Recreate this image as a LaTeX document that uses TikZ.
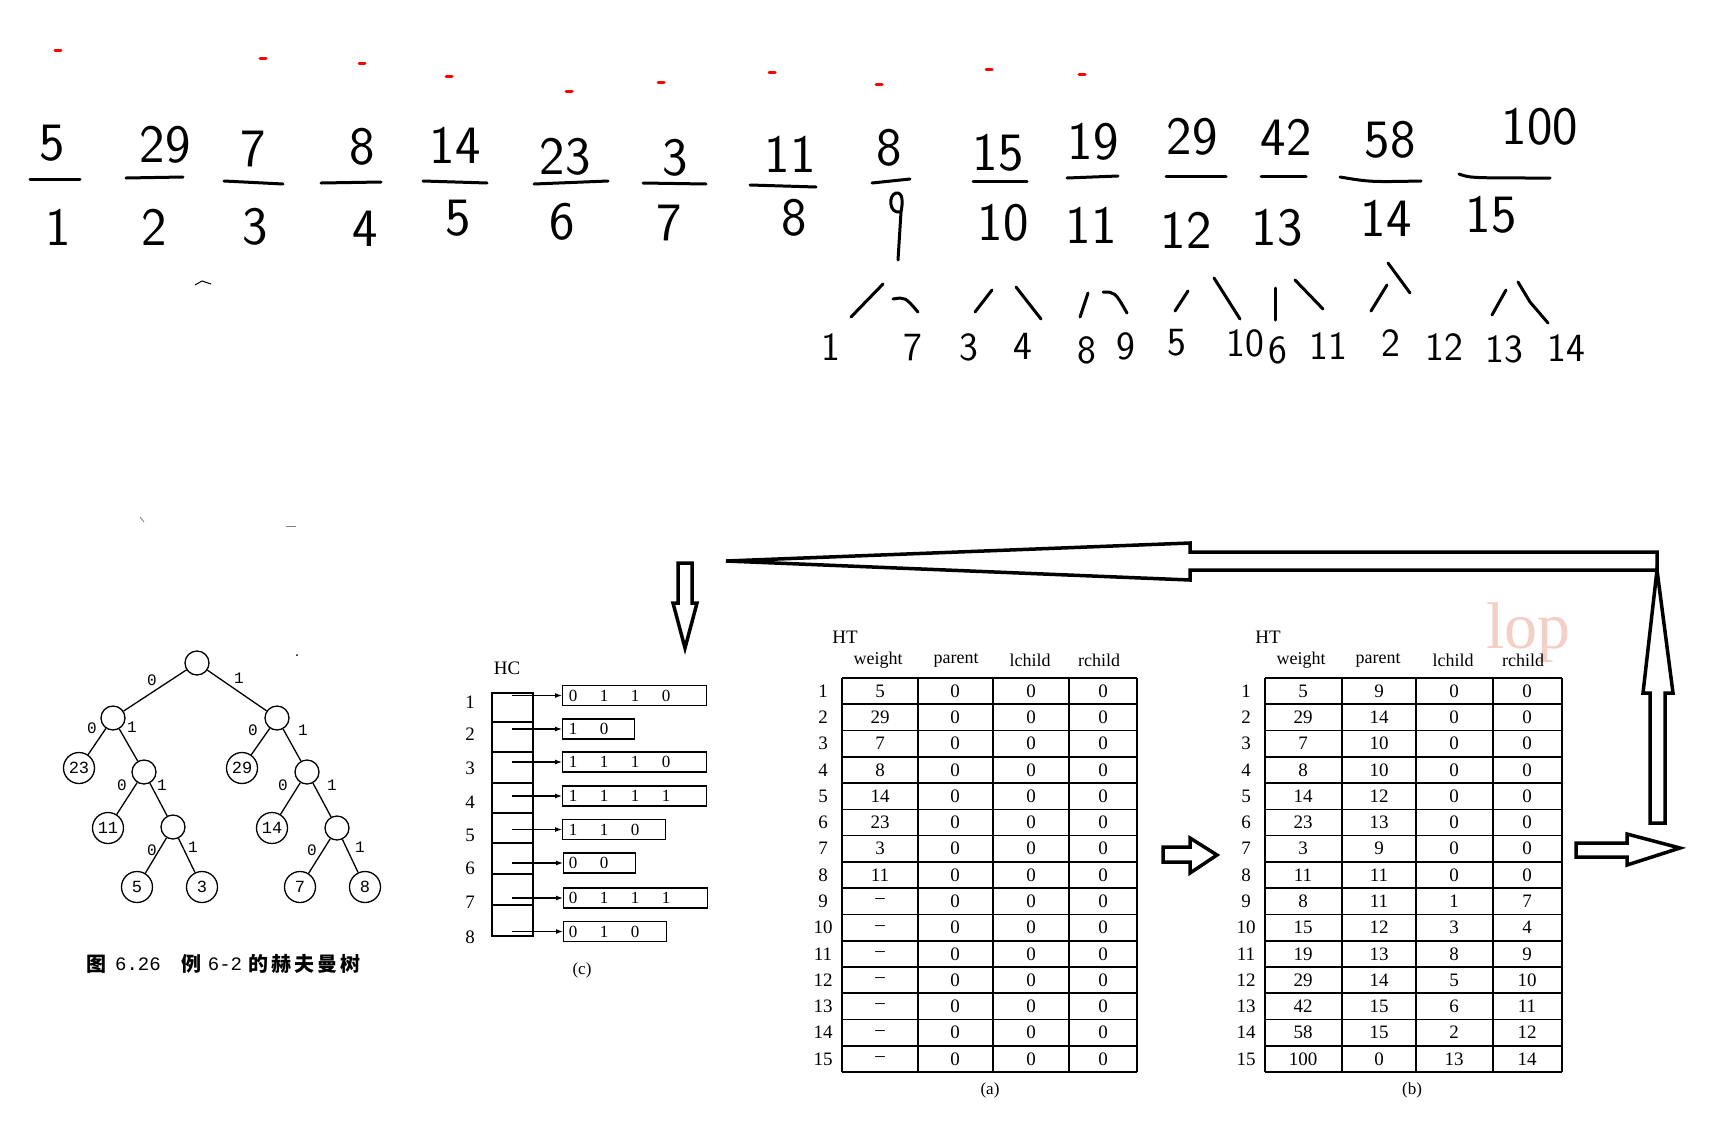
\documentclass[tikz,border=0pt]{standalone}
\usepackage{fontspec}
\setmainfont{Liberation Serif}
\newfontfamily\cjk{Noto Sans CJK SC}
\newfontfamily\mono{Liberation Mono}
\usetikzlibrary{arrows.meta}
\definecolor{wm}{RGB}{243,208,198}
\begin{document}
\begin{tikzpicture}[x=1pt,y=-1pt,
  hw/.style={font=\sffamily\fontsize{54}{54}\selectfont, inner sep=0pt},
  hws/.style={font=\sffamily\fontsize{40}{40}\selectfont, inner sep=0pt},
  hwline/.style={line width=3pt, line cap=round, line join=round},
  redmark/.style={draw=red, line width=3pt, line cap=round},
  tn/.style={circle, draw, line width=1.3pt, minimum size=24pt, inner sep=0pt},
  leaf/.style={tn, minimum size=31pt, font=\mono\fontsize{17}{17}\selectfont},
  el/.style={font=\mono\fontsize{16}{16}\selectfont, inner sep=0pt},
  ser/.style={font=\fontsize{19}{19}\selectfont, inner sep=0pt},
  hdr/.style={font=\fontsize{18}{18}\selectfont, inner sep=0pt},
  cd/.style={font=\fontsize{17}{17}\selectfont, inner sep=0pt},
  tline/.style={line width=1.6pt},
  hollow/.style={line width=3.5pt, line join=miter},
  codebox/.style={draw, line width=1.3pt, minimum height=20pt, anchor=west, inner sep=0pt},
  hcarrow/.style={line width=1.2pt, -{Latex[length=7pt,width=5pt]}},
  cjkc/.style={font=\cjk\bfseries\fontsize{20}{20}\selectfont, inner sep=0pt},
  monoc/.style={font=\mono\fontsize{19}{19}\selectfont, inner sep=0pt}
]
\useasboundingbox (0,0) rectangle (1716,1128);
\fill[white] (0,0) rectangle (1716,1128);

% ---------- red marks ----------
\foreach \x/\y in {58/50,263/58,362/63,449/76,569/91,661/82,772/72,879/84,989/69,1082/74}
  \draw[redmark] (\x-3,\y) -- (\x+3,\y);

% stray marks
\draw[line width=1pt] (195,285) -- (202,281) -- (211,284);
\draw[line width=0.8pt, gray] (140,517) -- (144,522);
\draw[line width=0.8pt, gray] (286,526) -- (296,526);

% ---------- handwritten top row ----------
\foreach \x/\y/\t [count=\k] in {52/143/5, 165/145/29, 253/149/7, 362/147/8, 455/145/14, 565/157/23, 675/158/3, 790/154/11, 889/148/8, 998/153/15, 1093/142/19, 1192/137/29, 1286/137/42, 1390/140/58, 1540/127/100}
  \node[hw] (w\k) at (\x,\y) {\t};

% fraction lines
\draw[hwline] (30,179) -- (80,179);
\draw[hwline] (126,178) -- (183,177);
\draw[hwline] (224,181) -- (283,184);
\draw[hwline] (321,183) -- (381,182);
\draw[hwline] (423,181) -- (487,183);
\draw[hwline] (534,184) -- (608,181);
\draw[hwline] (643,183) -- (706,184);
\draw[hwline] (750,185) -- (816,187);
\draw[hwline] (872,183) -- (910,179);
\draw[hwline] (973,181) -- (1027,181);
\draw[hwline] (1067,178) -- (1118,176);
\draw[hwline] (1166,176) -- (1226,176);
\draw[hwline] (1261,176) -- (1306,176);
\draw[hwline] (1340,177) .. controls (1370,182) .. (1421,181);
\draw[hwline] (1459,174) .. controls (1470,178) .. (1550,178);

% index row
\foreach \x/\y/\t [count=\k] in {58/227/1, 154/227/2, 255/227/3, 365/229/4, 458/218/5, 562/222/6, 669/223/7, 794/218/8, 1003/223/10, 1091/225/11, 1186/230/12, 1277/228/13, 1386/218/14, 1491/215/15}
  \node[hw] (i\k) at (\x,\y) {\t};
% tall handwritten 9
\draw[hwline] (900,212) .. controls (889,214) and (888,195) .. (896,193) .. controls (903,192) and (903,202) .. (901,212) -- (898,260);

% children row
\foreach \x/\y/\t [count=\k] in {831/347/1, 913/348/7, 969/347/3, 1023/346/4, 1087/350/8, 1126/346/9, 1177/343/5, 1245/343/10, 1278/350/6, 1328/346/11, 1391/343/2, 1444/347/12, 1504/349/13, 1566/348/14}
  \node[hws] (ch\k) at (\x,\y) {\t};

% children strokes
\draw[hwline] (851,317) -- (883,284);
\draw[hwline] (893,299) .. controls (905,297) .. (918,312);
\draw[hwline] (975,312) -- (992,290);
\draw[hwline] (1016,287) -- (1041,319);
\draw[hwline] (1080,317) -- (1088,293);
\draw[hwline] (1103,292) .. controls (1115,292) .. (1127,313);
\draw[hwline] (1175,311) -- (1188,291);
\draw[hwline] (1214,278) -- (1240,319);
\draw[hwline] (1275,288) -- (1275,320);
\draw[hwline] (1295,280) -- (1323,309);
\draw[hwline] (1371,311) -- (1387,285);
\draw[hwline] (1388,263) -- (1410,293);
\draw[hwline] (1492,315) -- (1506,290);
\draw[hwline] (1518,282) -- (1530,302) -- (1548,323);

% ---------- Huffman tree ----------
\node[tn] (root) at (197,663) {};
\node[tn] (L) at (113,718) {};
\node[tn] (R) at (277,718) {};
\node[leaf] (n23) at (79,768) {23};
\node[tn] (LR) at (144,772) {};
\node[leaf] (n29) at (242,768) {29};
\node[tn] (RR) at (307,772) {};
\node[leaf] (n11) at (108,828) {11};
\node[tn] (LRR) at (173,827) {};
\node[leaf] (n14) at (272,828) {14};
\node[tn] (RRR) at (337,828) {};
\node[leaf] (n5) at (137,887) {5};
\node[leaf] (n3) at (202,887) {3};
\node[leaf] (n7) at (300,887) {7};
\node[leaf] (n8) at (365,887) {8};
\foreach \a/\b in {root/L, root/R, L/n23, L/LR, R/n29, R/RR, LR/n11, LR/LRR, RR/n14, RR/RRR, LRR/n5, LRR/n3, RRR/n7, RRR/n8}
  \draw[line width=1.3pt] (\a) -- (\b);
\foreach \x/\y/\t [count=\k] in {152/680/0, 239/678/1, 92/728/0, 132/727/1, 253/730/0, 303/730/1, 122/785/0, 162/785/1, 283/785/0, 332/785/1, 152/850/0, 193/847/1, 312/850/0, 360/847/1}
  \node[el] (e\k) at (\x,\y) {\t};
\fill (297,655) circle (1pt);

% caption
\node[cjkc] (cap1) at (96,964) {图};
\node[monoc] (cap2) at (138,964) {6.26};
\node[cjkc] (cap3) at (191,964) {例};
\node[monoc] (cap4) at (225,964) {6-2};
\foreach \c [count=\k] in {的,赫,夫,曼,树}
  \node[cjkc] (capc\k) at ({235+\k*23},964) {\c};

% ---------- HC ----------
\node[ser] (hc) at (507,668) {HC};
\foreach \y [count=\k] in {702,734,768,802,835,868,902,937}
  \node[ser] (hcr\k) at (470,\y) {\k};
\draw[line width=1.3pt] (492,693) rectangle (533,936);
\foreach \y in {722,752,783,813,843,874,905}
  \draw[line width=1.3pt] (492,\y) -- (533,\y);

\node[codebox, minimum width=144pt] (c1) at (562,695.5) {};
\foreach \b [count=\j] in {0,1,1,0} \node[cd] (c1d\j) at ({542+\j*31},695.5) {\b};
\node[codebox, minimum width=72pt] (c2) at (562,729) {};
\foreach \b [count=\j] in {1,0} \node[cd] (c2d\j) at ({542+\j*31},729) {\b};
\node[codebox, minimum width=144pt] (c3) at (562,762) {};
\foreach \b [count=\j] in {1,1,1,0} \node[cd] (c3d\j) at ({542+\j*31},762) {\b};
\node[codebox, minimum width=144pt] (c4) at (562,796) {};
\foreach \b [count=\j] in {1,1,1,1} \node[cd] (c4d\j) at ({542+\j*31},796) {\b};
\node[codebox, minimum width=103pt] (c5) at (562,829.5) {};
\foreach \b [count=\j] in {1,1,0} \node[cd] (c5d\j) at ({542+\j*31},829.5) {\b};
\node[codebox, minimum width=72pt] (c6) at (563,863) {};
\foreach \b [count=\j] in {0,0} \node[cd] (c6d\j) at ({542+\j*31},863) {\b};
\node[codebox, minimum width=144pt] (c7) at (563,898) {};
\foreach \b [count=\j] in {0,1,1,1} \node[cd] (c7d\j) at ({542+\j*31},898) {\b};
\node[codebox, minimum width=103pt] (c8) at (563,931.5) {};
\foreach \b [count=\j] in {0,1,0} \node[cd] (c8d\j) at ({542+\j*31},931.5) {\b};

\foreach \y [count=\k] in {695.5,729,762,796,829.5,863,898,931.5} {
  \coordinate (s\k) at (512,\y);
  \draw[hcarrow] (s\k) -- (c\k.west);
}
\node[cd] (capc) at (582,970) {(c)};

% ---------- HT (a) ----------
\node[ser] (aHT) at (845,637) {HT};
\foreach \t/\x [count=\k] in {weight/878, parent/956, lchild/1030, rchild/1099}
  \node[hdr] (ah\k) at (\x,660) {\t};
\foreach \r in {0,...,15} \draw[tline] (842,{678+\r*26.27}) -- (1137,{678+\r*26.27});
\foreach \x in {842,918,993,1069,1137} \draw[tline] (\x,678) -- (\x,1072);
\foreach \w [count=\i] in {5,29,7,8,14,23,3,11,--,--,--,--,--,--,--} {
  \node[ser] (ar\i) at (823,{678+(\i-0.5)*26.27}) {\i};
  \node[ser] (aw\i) at (880,{678+(\i-0.5)*26.27}) {\w};
  \node[ser] (ap\i) at (955,{678+(\i-0.5)*26.27}) {0};
  \node[ser] (al\i) at (1031,{678+(\i-0.5)*26.27}) {0};
  \node[ser] (arc\i) at (1103,{678+(\i-0.5)*26.27}) {0};
}
\node[cd] (capa) at (990,1090) {(a)};

% ---------- watermark ----------
\begin{scope}
  \clip (1440,600) rectangle (1592,690);
  \node[anchor=base west, inner sep=0pt, text=wm, font=\fontsize{66}{66}\selectfont] (wmk) at (1486,648) {lop};
\end{scope}

% ---------- HT (b) ----------
\node[ser] (bHT) at (1268,637) {HT};
\foreach \t/\x [count=\k] in {weight/1301, parent/1378, lchild/1453, rchild/1523}
  \node[hdr] (bh\k) at (\x,660) {\t};
\foreach \r in {0,...,15} \draw[tline] (1265,{678+\r*26.27}) -- (1562,{678+\r*26.27});
\foreach \x in {1265,1342,1416,1493,1562} \draw[tline] (\x,678) -- (\x,1072);
\foreach \w/\p/\l/\q [count=\i] in {5/9/0/0, 29/14/0/0, 7/10/0/0, 8/10/0/0, 14/12/0/0, 23/13/0/0, 3/9/0/0, 11/11/0/0, 8/11/1/7, 15/12/3/4, 19/13/8/9, 29/14/5/10, 42/15/6/11, 58/15/2/12, 100/0/13/14} {
  \node[ser] (br\i) at (1246,{678+(\i-0.5)*26.27}) {\i};
  \node[ser] (bw\i) at (1303,{678+(\i-0.5)*26.27}) {\w};
  \node[ser] (bp\i) at (1379,{678+(\i-0.5)*26.27}) {\p};
  \node[ser] (bl\i) at (1454,{678+(\i-0.5)*26.27}) {\l};
  \node[ser] (brc\i) at (1527,{678+(\i-0.5)*26.27}) {\q};
}
\node[cd] (capb) at (1412,1090) {(b)};

% ---------- hollow arrows ----------
\draw[hollow] (678,563) -- (692,563) -- (692,603) -- (697,603) -- (685,648) -- (673,603) -- (678,603) -- cycle;
\draw[hollow] (726,561) -- (1190,543) -- (1190,552) -- (1657,552) -- (1657,570) -- (1190,570) -- (1190,580) -- cycle;
\draw[hollow] (1657,570) -- (1673,693) -- (1665,693) -- (1665,823) -- (1650,823) -- (1650,693) -- (1643,693) -- cycle;
\draw[hollow] (1163,847) -- (1190,847) -- (1190,838) -- (1217,855) -- (1190,873) -- (1190,862) -- (1163,862) -- cycle;
\draw[hollow] (1576,843) -- (1627,843) -- (1627,834) -- (1680,848) -- (1627,865) -- (1627,857) -- (1576,857) -- cycle;
\end{tikzpicture}
\end{document}
